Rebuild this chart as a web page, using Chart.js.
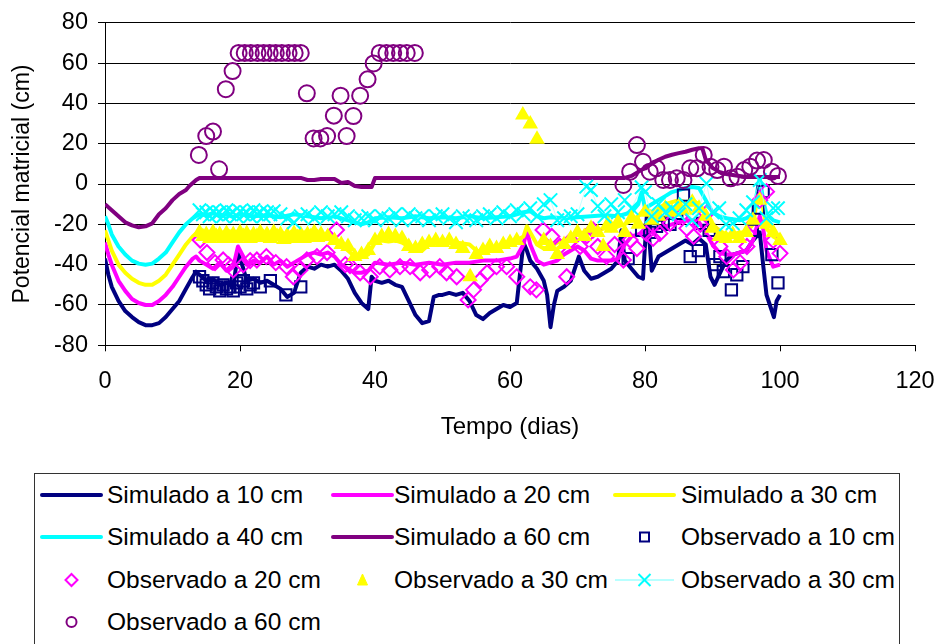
<!DOCTYPE html>
<html>
<head>
<meta charset="utf-8">
<script src="https://cdn.jsdelivr.net/npm/chart.js@4.4.0/dist/chart.umd.min.js"></script>
<style>
  html, body { margin: 0; padding: 0; background: #fff; overflow: hidden; }
  #wrap { position: relative; width: 938px; height: 644px; }
  #c { position: absolute; left: 0; top: 0; }
  #legend { position: absolute; left: 34px; top: 473px; width: 866px; height: 190px; border: 1px solid #333; box-sizing: border-box; }
  .lg { position: absolute; height: 28px; line-height: 28px; font-family: "Liberation Sans", Arial, sans-serif; font-size: 24.5px; color: #000; white-space: nowrap; }
  #lgsvg { position: absolute; left: 0; top: 0; }
</style>
</head>
<body>
<div id="wrap">
  <canvas id="c" width="938" height="470"></canvas>
  <div id="legend"></div>
</div>
<script>
// ---------- Tick labels / axis texts ----------
const xTitle = "Tempo (dias)";
const yTitle = "Potencial matricial (cm)";

// ---------- Simulated series ----------
const sim10Days = [0,0.5,1,2,3,4,5,6,7,8,9,10,11,12,13,13.5,14,15,16,17,18,19,19.7,20.5,21,22,23,24,25,26,27,28,29,30,31,32,33,34,35,36,37,38,39,39.5,40,41,42,43,44,45,46,47,48,48.7,49.5,50,51,52,53,54,55,56,57,58,59,60,61,61.5,62,62.5,63,64,65,65.5,66,66.5,67,68,69,69.6,70.2,71,72,73,74,75,76,76.5,77,78,79,79.7,80.3,80.7,81,82,83,84,85,86,87,88,89,89.7,90.3,91,92,93,94,95,96,97,97.5,98,98.7,99.1,99.5,100];
const sim10Vals = [-37,-45,-51,-58,-63,-66,-68.5,-70,-70,-69,-66,-62,-58,-52,-46,-43.5,-45,-48,-47,-50,-49,-51,-34,-42,-48,-47,-49,-48,-50,-52,-56,-54,-44,-41,-42,-40,-41,-40,-43,-47,-54,-59,-62,-46,-48,-49,-48,-50,-51,-58,-65,-69,-68,-56,-55,-55,-54,-55,-54,-58,-65,-67,-64,-62,-60,-61,-59,-44,-29,-33,-38,-42,-48,-55,-71,-60,-53,-51,-48,-42,-36,-43,-47,-46,-44,-42,-38,-23,-38,-42,-46,-47,-14,-30,-43,-36,-34,-32,-30,-28,-30,-27,-30,-46,-50,-45,-38,-35,-34,-33,-28,-24,-40,-55,-62,-66,-58,-55];

const sim20Days = [0,0.5,1,2,3,4,5,6,7,8,9,10,11,12,13,13.5,14,15,16,17,18,19,19.7,20.5,21,22,23,24,25,26,27,28,29,30,31,32,33,34,35,36,37,38,39,40,42,44,46,48,50,52,54,56,58,60,61,62,62.5,63,64,65,66,67,68,69,70,71,72,73,74,75,76,77,78,79,80,81,82,83,84,85,86,87,88,89,90,91,92,93,94,95,96,97,97.5,98,99,100];
const sim20Vals = [-29,-35,-40,-48,-53,-57,-59,-60,-60,-58,-55,-51,-46,-41,-37,-36,-38,-40,-42,-39,-43,-41,-31,-36,-40,-38,-39,-36,-40,-38,-41,-39,-37,-35,-34,-35,-34,-36,-40,-42,-44,-44,-43,-39,-40,-39,-40,-39,-40,-39,-39,-38,-38,-37,-36,-30,-23,-30,-38,-40,-39,-38,-35,-33,-31,-33,-37,-38,-38,-38,-37,-30,-26,-25,-24,-23,-22,-21,-20,-19,-18,-18,-19,-24,-30,-34,-35,-35,-34,-33,-28,-16,-22,-33,-41,-40];

const sim30Days = [0,0.5,1,2,3,4,5,6,7,8,9,10,11,12,13,13.5,14,15,16,17,18,19,20,21,22,23,24,25,26,27,28,29,30,31,32,33,34,35,36,37,38,39,40,41,42,43,44,45,46,47,48,49,50,52,54,55,56,57,58,59,60,61,62,62.5,63,64,65,66,67,68,69,70,71,72,73,74,75,76,77,78,79,80,81,82,83,84,85,86,87,88,89,90,91,92,93,94,95,96,96.5,97,97.5,98,99,100];
const sim30Vals = [-23,-28,-33,-40,-44,-47,-49,-50,-50,-48,-45,-40,-35,-30,-26,-24.5,-25,-27,-25,-27.5,-26,-27,-24,-26,-27,-25,-26.5,-24.5,-26,-27,-25,-26,-25.5,-24,-26,-25,-27,-30,-33,-36,-36,-35,-29,-28,-28.5,-28,-29,-31,-33,-33,-30,-29,-29.5,-29,-30,-33,-34,-33,-32,-31,-29,-28,-26,-21,-24,-30,-32,-31,-29,-28,-26,-24,-25,-24,-23,-22,-23,-21,-20,-18,-16,-12,-14,-12,-10,-9,-8,-9,-8,-10,-14,-20,-23,-25,-25,-24,-24,-20,-10,-2,-12,-22,-26,-28];

const sim40Days = [0,0.5,1,2,3,4,5,6,7,8,9,10,11,12,13,14,15,16,17,18,19,20,22,24,26,28,30,32,34,36,37,38,39,40,42,44,46,48,50,52,54,56,58,60,61,62,63,64,65,66,68,70,72,74,76,77,78,79,79.5,80,81,82,83,84,85,86,87,88,89,90,91,92,93,94,95,96,96.5,97,97.5,98,99,100];
const sim40Vals = [-16,-20,-25,-31,-35,-38,-39.5,-40,-39.5,-37,-34,-29,-24,-20,-17,-15,-15.5,-14.5,-16,-15,-16.5,-15,-16,-15.5,-16.5,-15,-16,-17,-16,-18,-19,-20,-19,-17,-16.5,-17,-16,-17,-16.5,-17,-16,-17,-16.5,-16,-15,-14,-13.5,-16,-17,-16.5,-17,-16.5,-16,-15.5,-16,-15,-14,-10,-4,-12,-10,-8,-6,-4,-3,-2,-1.5,-2,-8,-14,-16,-17,-17.5,-18,-17,-15,-6,3,-8,-15,-18,-19];

const sim60Days = [0,1,2,3,4,5,6,7,8,9,10,11,12,12.5,13,13.5,14,20,25,29,30,31,32,33,34,35,36,37,38,39,39.5,40,45,50,55,60,65,70,75,77,78,79,80,81,82,83,84,85,86,87,88,88.5,89,90,91,92,93,94,95,96,97,98,99,100];
const sim60Vals = [-10,-13,-16,-19,-20.5,-21.5,-21,-19.5,-15,-12,-8,-5,-3,-1,0.5,2,3,3,3,3,2,2,2.5,2.5,2.5,0.5,1,-1,-1.5,-1.5,-1.5,3,3,3,3,3,3,3,3,3,4,6,8,10,12,13.5,14.5,15.3,16,17,17.7,17.7,12,8,6,5,4.5,4,3.5,3.5,3.5,3.5,3.5,3.5];

// ---------- Observed series ----------
const obs10Days = [14,14.5,15,15.5,16,16.5,17,17.5,18,18.5,19,19.5,20,20.5,21,21.5,22,23,24.5,26.8,29,77.5,79.5,80.7,81.7,82.7,83.7,84.7,85.7,86.7,87.9,88.5,89.5,90.4,91.1,91.6,92.8,93.6,94.5,95.9,96.8,97.5,98.8,99.7];
const obs10Vals = [-46,-48,-50,-52,-49,-51,-53,-50,-52,-51,-53,-49,-51,-48,-52,-50,-49,-51,-48,-55,-51,-37,-23,-24,-21,-19,-20,-14.5,-5.5,-36,-33,-19.5,-23,-40,-36,-43.5,-52.5,-45,-41,-23,-12,-3.8,-35,-49];

const obs20Days = [14.1,15.1,16.3,17.5,18.3,19,20.5,21.5,22.5,23.9,25.3,26.9,27.9,28.9,29.9,31.4,32.9,34.3,35.6,36.3,37.8,39.3,40.7,42.2,43.7,45.2,46.7,48.1,49.6,50.6,52.1,53.8,54.6,55.6,56.6,58,59.5,61,63,63.9,64.9,66.2,67.4,68.4,69,70.4,71.4,72.3,73,74.3,75.5,76.8,77.8,78.8,80.2,81.2,82.2,83.7,85.2,86.2,87.2,88.2,89.1,90.1,91.1,92.1,93.1,94.1,95.1,96,97,98,99,100];
const obs20Vals = [-27.8,-34,-39,-37.7,-40,-42.6,-40,-38,-37.7,-36,-39,-41,-46,-42.6,-37.7,-36,-34,-22.8,-40,-40.5,-44,-46,-41,-42.6,-41,-41,-44,-42.6,-41,-44,-46,-57.5,-52.5,-47.6,-44,-41,-41,-46,-51,-52.5,-22.8,-26,-31,-46,-28,-31,-25.6,-22.8,-31,-36,-30,-37.7,-27.8,-32,-24.5,-27,-24.5,-19.5,-16.2,-22,-26,-20,-14.5,-24,-31,-36,-42.6,-39,-31,-20,-8,-3.8,-28,-34.4];

const obs30TriDays = [14,14.5,15,15.5,16,16.5,17,17.5,18,18.5,19,19.5,20,20.5,21,21.5,22,22.5,23,23.5,24,24.5,25,25.5,26,26.5,27,27.5,28,28.5,29,29.5,30,30.5,31,31.5,32,33,34,35,36,37,38,39,40,41,42,43,44,45,46,47,48,49,50,51,52,53,54.1,55,56,57,58,59,60,61,61.9,63,64,65,66,67,68,69,70,71,72,73,73.8,74.5,75,76,77,78,79,80,81,82,83,84,85,86,87,88,89,90,91,92,93,94,95,96,97,98,99,100];
const obs30TriVals = [-24,-26,-25,-27,-24,-26,-25,-27,-24.5,-26.5,-25,-27,-24,-26,-24.5,-27,-25,-26,-24,-26.5,-25,-27,-24,-26,-25,-27.5,-25.5,-27,-24.5,-26.5,-25,-27,-25,-26,-24,-26.5,-25,-26,-28,-30,-31,-36,-35,-33,-28,-26,-25,-26,-27,-31,-32,-30,-29,-28,-29,-28,-30,-32,-46,-35,-33,-31,-32,-30,-29,-28,34.2,29.7,22.2,-28,-31,-35,-30,-27,-24,-26,-22,-24,-31,-20,-22,-19,-24,-17,-20,-14,-18,-16,-12,-14,-11,-13,-9,-12,-16,-22,-26,-27,-25,-27,-24,-18,-8,-20,-24,-28];

const obs30XDays = [14,14.5,15,15.5,16,16.5,17,17.5,18,18.5,19,19.5,20,20.5,21,21.5,22,22.5,23,23.5,24,24.5,25,26,27,28,29,30,31,32,33,34,35,36,37,38,39,40,41,42,43,44,45,46,47,48,49,50,51,52,53,54,55,56,57,58,59,60,61,62,63,64,65,66,67,68,69,70,71.3,72,73,74,75,76,77,78,79.5,80,81,82,83,84,85,86,87,88,89.1,90,91,92,93,94,95,96,97,98,99,99.7];
const obs30XVals = [-13,-15,-14,-16,-13.5,-15,-14,-16,-13,-15,-14,-16,-13.5,-15,-14,-16,-13,-15,-14,-16,-14,-15,-13.5,-15,-17,-19,-16,-15,-17,-14,-16,-15,-14,-16,-18,-17,-16,-18,-16,-17,-15,-18,-15,-17,-16,-18,-16,-15,-17,-19,-16,-17,-18,-16,-15,-17,-14,-16,-13,-15,-12,-16,-10,-8,-18,-17,-16,-15,-1.3,-3,-11,-16,-10,-14,-8,-12,-1.6,-4,-16,-10,-14,-12,-15,-10,-18,-12,0.3,-14,-12,-20,-19.5,-17,-13,-9,2,-17,-12,-12];

const obs60Days = [13.9,15,16,16.9,17.9,18.9,19.8,20.7,21.6,22.6,23.5,24.4,25.3,26.2,27.2,28.1,29.0,29.9,30.9,31.9,32.9,33.9,34.9,35.8,36.8,37.8,38.9,39.8,40.7,41.7,42.7,43.7,44.7,45.9,76.8,77.8,78.8,79.7,80.7,81.7,82.7,83.7,84.7,85.7,86.7,87.7,88.7,89.7,90.7,91.7,92.7,93.7,94.7,95.6,96.6,97.6,98.8,99.7];
const obs60Vals = [14.4,23.8,26,7.3,47,56,65,65,65,65,65,65,65,65,65,65,65,45,22.6,22.6,23.8,33.9,43.8,23.8,33.7,43.8,51.9,59.8,65,65,65,65,65,65,-0.5,6.1,19.3,11,6.1,7.8,2,2,2.8,2,7.8,7.8,14.4,8.6,6.9,8.6,2.8,3.6,6.9,8.6,11.6,11.9,6.1,4];

const seriesNames = ["Simulado a 10 cm","Simulado a 20 cm","Simulado a 30 cm","Simulado a 40 cm","Simulado a 60 cm",
  "Observado a 10 cm","Observado a 20 cm","Observado a 30 cm","Observado a 30 cm","Observado a 60 cm"];

// ---------- helpers ----------
function pairs(d, v) { return d.map((x, i) => ({ x: x, y: v[i] })); }
const FONT = '"Liberation Sans", Arial, sans-serif';

function lineDs(i, d, v, color) {
  return { label: seriesNames[i], data: pairs(d, v), showLine: true, borderColor: color, backgroundColor: color,
    borderWidth: 4, pointRadius: 0, tension: 0, order: 100 - i, borderJoinStyle: 'round' };
}
function ptDs(i, d, v, color, style, r, fill, extra) {
  return Object.assign({ label: seriesNames[i], data: pairs(d, v), showLine: false, pointStyle: style,
    pointRadius: r, pointBorderColor: color, pointBackgroundColor: fill, pointBorderWidth: 2,
    borderColor: color, backgroundColor: fill, order: 100 - i }, extra || {});
}

const datasets = [
  lineDs(0, sim10Days, sim10Vals, '#000080'),
  lineDs(1, sim20Days, sim20Vals, '#FF00FF'),
  lineDs(2, sim30Days, sim30Vals, '#FFFF00'),
  lineDs(3, sim40Days, sim40Vals, '#00FFFF'),
  lineDs(4, sim60Days, sim60Vals, '#800080'),
  ptDs(5, obs10Days, obs10Vals, '#000080', 'rect', 8, 'rgba(0,0,0,0)'),
  ptDs(6, obs20Days, obs20Vals, '#FF00FF', 'rectRot', 7.5, 'rgba(0,0,0,0)'),
  ptDs(7, obs30TriDays, obs30TriVals, '#FFFF00', 'triangle', 7, '#FFFF00'),
  ptDs(8, obs30XDays, obs30XVals, '#00FFFF', 'crossRot', 9.5, '#00FFFF', { showLine: true, borderColor: 'rgba(170,255,255,0.7)', borderWidth: 1 }),
  ptDs(9, obs60Days, obs60Vals, '#800080', 'circle', 8, 'rgba(0,0,0,0)')
];

new Chart(document.getElementById('c'), {
  type: 'scatter',
  data: { datasets: datasets },
  options: {
    responsive: false,
    animation: false,
    events: [],
    layout: { padding: { top: 22.7, right: 23, bottom: 0, left: 0 } },
    plugins: { legend: { display: false }, tooltip: { enabled: false } },
    scales: {
      x: {
        type: 'linear', min: 0, max: 120,
        afterFit: (s) => { s.height = 124.7; s.paddingLeft = 0; s.paddingRight = 0; },
        ticks: { stepSize: 20, color: '#000', font: { family: FONT, size: 23.5 }, padding: 16, maxRotation: 0 },
        grid: { drawOnChartArea: false, drawTicks: true, tickLength: 6, color: '#000', lineWidth: 1 },
        border: { display: true, color: '#000', width: 1 },
        title: { display: true, text: xTitle, color: '#000', font: { family: FONT, size: 24 }, padding: { top: 0, bottom: 28 } }
      },
      y: {
        type: 'linear', min: -80, max: 80,
        afterFit: (s) => { s.width = 105; s.paddingTop = 0; s.paddingBottom = 0; },
        ticks: { stepSize: 20, color: '#000', font: { family: FONT, size: 23.5 }, padding: 10 },
        grid: { drawOnChartArea: true, drawTicks: true, tickLength: 7, color: '#000', lineWidth: 1 },
        border: { display: true, color: '#000', width: 1 },
        title: { display: true, text: yTitle, color: '#000', font: { family: FONT, size: 23 }, padding: { top: 9, bottom: 0 } }
      }
    }
  }
});

// ---------- HTML legend ----------
(function buildLegend() {
  const lg = document.getElementById('legend');
  const ox = 35, oy = 474; // inner origin of legend box in page coords
  const rows = [495, 537, 580, 622];
  const textX = [107, 394, 681];
  const lineX = [[42, 101], [333, 392], [615, 674]];
  const items = [
    { name: seriesNames[0], col: 0, row: 0, kind: 'line', color: '#000080' },
    { name: seriesNames[1], col: 1, row: 0, kind: 'line', color: '#FF00FF' },
    { name: seriesNames[2], col: 2, row: 0, kind: 'line', color: '#FFFF00' },
    { name: seriesNames[3], col: 0, row: 1, kind: 'line', color: '#00FFFF' },
    { name: seriesNames[4], col: 1, row: 1, kind: 'line', color: '#800080' },
    { name: seriesNames[5], col: 2, row: 1, kind: 'square', color: '#000080' },
    { name: seriesNames[6], col: 0, row: 2, kind: 'diamond', color: '#FF00FF' },
    { name: seriesNames[7], col: 1, row: 2, kind: 'triangle', color: '#FFFF00' },
    { name: seriesNames[8], col: 2, row: 2, kind: 'x', color: '#00FFFF' },
    { name: seriesNames[9], col: 0, row: 3, kind: 'circle', color: '#800080' }
  ];
  const NS = 'http://www.w3.org/2000/svg';
  const svg = document.createElementNS(NS, 'svg');
  svg.setAttribute('id', 'lgsvg');
  svg.setAttribute('width', '866'); svg.setAttribute('height', '190');
  lg.appendChild(svg);
  function el(tag, attrs) { const e = document.createElementNS(NS, tag); for (const k in attrs) e.setAttribute(k, attrs[k]); svg.appendChild(e); return e; }
  items.forEach(it => {
    const cy = rows[it.row] - oy;
    const x0 = lineX[it.col][0] - ox, x1 = lineX[it.col][1] - ox, cx = (x0 + x1) / 2;
    if (it.kind === 'line') {
      el('line', { x1: x0, y1: cy, x2: x1, y2: cy, stroke: it.color, 'stroke-width': 4, 'stroke-linecap': 'round' });
    } else if (it.kind === 'square') {
      el('rect', { x: cx - 4.5, y: cy - 4.5, width: 9, height: 9, fill: 'none', stroke: it.color, 'stroke-width': 2 });
    } else if (it.kind === 'diamond') {
      el('polygon', { points: `${cx},${cy-6} ${cx+6},${cy} ${cx},${cy+6} ${cx-6},${cy}`, fill: 'none', stroke: it.color, 'stroke-width': 2 });
    } else if (it.kind === 'triangle') {
      el('polygon', { points: `${cx},${cy-6} ${cx+5},${cy+5} ${cx-5},${cy+5}`, fill: it.color, stroke: it.color, 'stroke-width': 1 });
    } else if (it.kind === 'x') {
      el('line', { x1: x0, y1: cy, x2: x1, y2: cy, stroke: '#B8FFFF', 'stroke-width': 2 });
      el('line', { x1: cx - 6, y1: cy - 6, x2: cx + 6, y2: cy + 6, stroke: it.color, 'stroke-width': 2 });
      el('line', { x1: cx - 6, y1: cy + 6, x2: cx + 6, y2: cy - 6, stroke: it.color, 'stroke-width': 2 });
    } else if (it.kind === 'circle') {
      el('circle', { cx: cx, cy: cy, r: 5, fill: 'none', stroke: it.color, 'stroke-width': 2 });
    }
    const t = document.createElement('div');
    t.className = 'lg';
    t.textContent = it.name;
    t.style.left = (textX[it.col] - ox) + 'px';
    t.style.top = (cy - 14) + 'px';
    lg.appendChild(t);
  });
})();
</script>
</body>
</html>
